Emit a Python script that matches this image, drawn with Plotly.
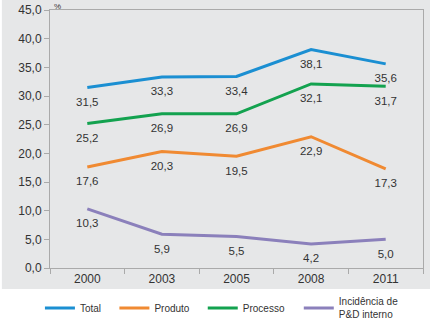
import plotly.graph_objects as go

years = ["2000", "2003", "2005", "2008", "2011"]
total = [31.5, 33.3, 33.4, 38.1, 35.6]
produto = [17.6, 20.3, 19.5, 22.9, 17.3]
processo = [25.2, 26.9, 26.9, 32.1, 31.7]
pd_interno = [10.3, 5.9, 5.5, 4.2, 5.0]

NB = "\u00a0" * 3
series = [
    ("Total" + NB, total, "#1b8fd2", "legend"),
    ("Produto" + NB, produto, "#f08a32", "legend"),
    ("Processo" + NB, processo, "#13a24f", "legend"),
    ("Incidência de<br>P&D interno", pd_interno, "#8b80bb", "legend2"),
]

fig = go.Figure()
for name, vals, col, lg in series:
    fig.add_trace(go.Scatter(
        x=years, y=vals, name=name, mode="lines+markers+text", legend=lg,
        line=dict(color=col, width=3),
        marker=dict(size=14, color="rgba(0,0,0,0)"),
        text=[f"{v:.1f}".replace(".", ",") for v in vals],
        textposition="bottom center",
        textfont=dict(size=11.5, color="#333333"),
    ))

fig.add_shape(type="rect", xref="paper", yref="paper",
              x0=-0.129, x1=1.02, y0=-0.081, y1=1.05,
              fillcolor="#e6e7e8", line=dict(width=0), layer="below")

fig.add_annotation(text="%", xref="paper", yref="paper", x=0.005, y=1.04,
                   xanchor="left", yanchor="top", showarrow=False,
                   font=dict(size=8, color="#333333"))

leg_common = dict(orientation="h", xanchor="left", y=-0.155, yanchor="middle",
                  font=dict(size=10, color="#333333"), bgcolor="rgba(0,0,0,0)")

fig.update_layout(
    width=430, height=323,
    margin=dict(l=50, r=7, t=10, b=55, autoexpand=False),
    paper_bgcolor="white", plot_bgcolor="white",
    font=dict(family="Liberation Sans, Arial, sans-serif", size=12, color="#333333"),
    separators=", ",
    showlegend=True,
    legend=dict(x=-0.027, **leg_common),
    legend2=dict(x=0.667, **leg_common),
    xaxis=dict(type="category", tickson="boundaries", ticks="outside", ticklen=5,
               tickcolor="#aaaaaa", showline=True, linecolor="#aaaaaa", mirror=True,
               showgrid=False, range=[-0.5, 4.5], tickfont=dict(size=12)),
    yaxis=dict(range=[0, 45], dtick=5, tickformat=".1f", ticks="outside", ticklen=5,
               tickcolor="#aaaaaa", showline=True, linecolor="#aaaaaa", mirror=True,
               showgrid=False, zeroline=False, tickfont=dict(size=12)),
)

fig.write_html("out.html", config={"displayModeBar": False},
               post_script="document.body.style.margin='0';document.body.style.overflow='hidden';")
